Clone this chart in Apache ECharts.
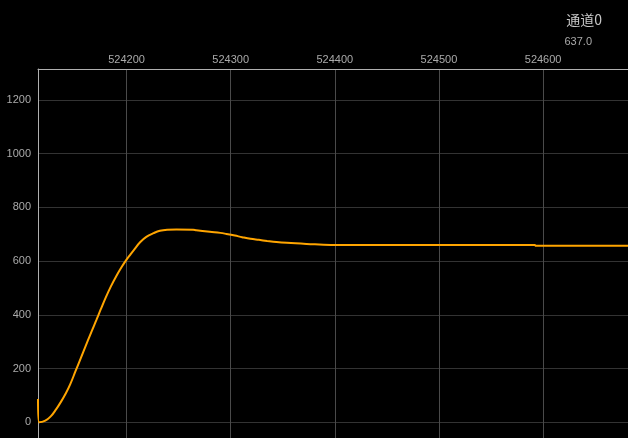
<!DOCTYPE html>
<html>
<head>
<meta charset="utf-8">
<script src="https://cdn.jsdelivr.net/npm/echarts@6/dist/echarts.min.js"></script>
<style>
  html, body { margin: 0; padding: 0; background: #000; }
  #chart { width: 628px; height: 438px; }
</style>
</head>
<body>
<div id="chart"></div>
<script>
const channelName = '通道0';
const currentValue = '637.0';
const xTickValues = [524200, 524300, 524400, 524500, 524600];
const yTickValues = [0, 200, 400, 600, 800, 1000, 1200];
const sampleIndex = [524115, 524116, 524122, 524127, 524132, 524137, 524142, 524146, 524151, 524156,
  524161, 524166, 524171, 524175, 524180, 524185, 524190, 524195, 524199, 524204,
  524207, 524213, 524219, 524226, 524232, 524239, 524248, 524264, 524267, 524280,
  524290, 524296, 524304, 524311, 524319, 524327, 524335, 524344, 524354, 524373,
  524396, 524592, 524593, 524682];
const sampleValue = [87, 0, 6, 21, 46, 76, 110, 142, 190, 238,
  286, 334, 380, 418, 464, 506, 543, 576, 600, 626,
  641, 670, 690, 704, 713, 717, 718, 717, 715, 709,
  705, 701, 695, 689, 683, 679, 675, 671, 668, 664,
  660, 660, 657, 657];

const seriesData = sampleIndex.map((x, i) => [x, sampleValue[i]]);
const labelFont = 'Liberation Sans, Arial, sans-serif';

const chart = echarts.init(document.getElementById('chart'), null, { renderer: 'canvas' });
chart.setOption({
  backgroundColor: '#000',
  animation: false,
  title: [
    { text: channelName, right: 21, top: 8,
      textStyle: { color: '#c8c8c8', fontSize: 14, fontWeight: 'normal', fontFamily: 'Noto Sans CJK SC, sans-serif' } },
    { text: currentValue, right: 31, top: 31,
      textStyle: { color: '#aaaaaa', fontSize: 11, fontWeight: 'normal', fontFamily: labelFont } }
  ],
  grid: { left: 38, right: 0, top: 69, bottom: 0, containLabel: false },
  xAxis: {
    type: 'value', position: 'top',
    min: 524115, max: 524681.5,
    axisLine: { show: true, onZero: false, lineStyle: { color: '#b0b0b0', width: 1 } },
    axisTick: { show: false, customValues: xTickValues },
    axisLabel: { color: '#aaaaaa', fontSize: 11, fontFamily: labelFont, margin: 4,
      customValues: xTickValues, formatter: v => String(v) },
    splitLine: { show: true, lineStyle: { color: '#4a4a4a', width: 1 } }
  },
  yAxis: {
    type: 'value',
    min: -58.5, max: 1315,
    axisLine: { show: true, onZero: false, lineStyle: { color: '#b0b0b0', width: 1 } },
    axisTick: { show: false, customValues: yTickValues },
    axisLabel: { color: '#aaaaaa', fontSize: 11, fontFamily: labelFont, margin: 7,
      customValues: yTickValues, formatter: v => String(v) },
    splitLine: { show: true, lineStyle: { color: '#333333', width: 1 } }
  },
  series: [{
    type: 'line',
    data: seriesData,
    showSymbol: false,
    smooth: 0.4,
    lineStyle: { color: '#FFA500', width: 2 },
    itemStyle: { color: '#FFA500' }
  }]
});
</script>
</body>
</html>
